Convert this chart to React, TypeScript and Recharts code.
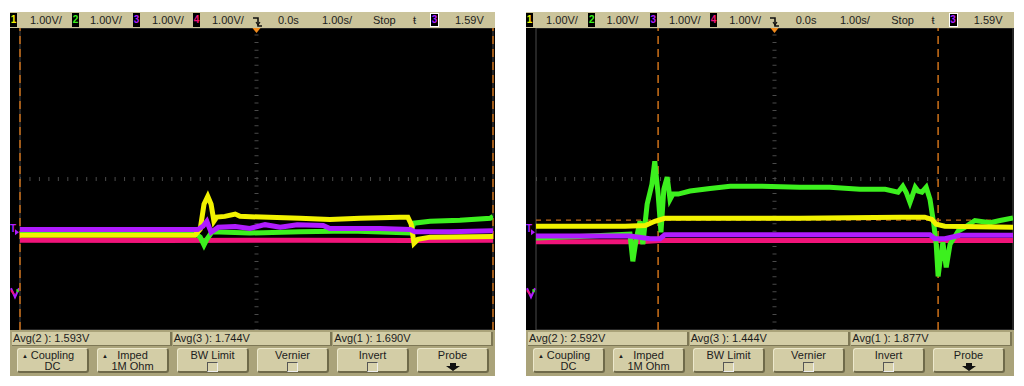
import React from 'react'
import { LineChart, Line, XAxis, YAxis, CartesianGrid, ReferenceLine } from 'recharts'

interface Pt {
  t: number
  v: number
}

// axes: seconds (1.00s/div, trigger at 0.0s) and volts (1.00V/div)
const timeTicks = [-5, -4, -3, -2, -1, 0, 1, 2, 3, 4, 5]
const voltTicks = [-1, 0, 1, 2, 3, 4, 5, 6, 7]
const triggerLevel = 1.59

const leftAvg = ['Avg(2 ): 1.593V', 'Avg(3 ): 1.744V', 'Avg(1 ): 1.690V']
const rightAvg = ['Avg(2 ): 2.592V', 'Avg(3 ): 1.444V', 'Avg(1 ): 1.877V']
const buttonTop = ['Coupling', 'Imped', 'BW Limit', 'Vernier', 'Invert', 'Probe']
const buttonBottom = ['DC', '1M Ohm', '', '', '', '']

// left capture
const leftYellow: Pt[] = [
  { t: -5, v: 1.51 }, { t: -1.3, v: 1.51 }, { t: -1.19, v: 1.67 }, { t: -1.11, v: 2.33 },
  { t: -1.03, v: 2.54 }, { t: -0.96, v: 2.33 }, { t: -0.9, v: 1.88 }, { t: -0.84, v: 1.99 },
  { t: -0.67, v: 2.01 }, { t: -0.45, v: 2.07 }, { t: -0.35, v: 2.01 }, { t: 0.92, v: 1.96 },
  { t: 1.55, v: 1.93 }, { t: 2.19, v: 1.96 }, { t: 3.03, v: 1.99 }, { t: 3.2, v: 1.99 },
  { t: 3.27, v: 1.8 }, { t: 3.33, v: 1.3 }, { t: 3.41, v: 1.4 }, { t: 3.67, v: 1.46 }, { t: 5, v: 1.48 },
]
const leftGreen: Pt[] = [
  { t: -5, v: 1.57 }, { t: -1.3, v: 1.57 }, { t: -1.19, v: 1.46 }, { t: -1.11, v: 1.25 },
  { t: -1.05, v: 1.4 }, { t: -0.94, v: 1.6 }, { t: -0.14, v: 1.57 }, { t: 0.92, v: 1.6 },
  { t: 1.98, v: 1.62 }, { t: 3.25, v: 1.57 }, { t: 3.33, v: 1.83 }, { t: 3.67, v: 1.88 },
  { t: 4.3, v: 1.91 }, { t: 4.94, v: 1.96 }, { t: 5, v: 2.01 },
]
const leftPurple: Pt[] = [
  { t: -5, v: 1.66 }, { t: -1.24, v: 1.66 }, { t: -1.13, v: 1.75 }, { t: -1.05, v: 1.88 },
  { t: -0.96, v: 1.59 }, { t: -0.81, v: 1.72 }, { t: -0.45, v: 1.74 }, { t: -0.14, v: 1.69 },
  { t: 0.18, v: 1.79 }, { t: 0.5, v: 1.72 }, { t: 0.86, v: 1.79 }, { t: 1.41, v: 1.77 },
  { t: 1.55, v: 1.69 }, { t: 2.61, v: 1.69 }, { t: 3.25, v: 1.66 }, { t: 3.35, v: 1.6 },
  { t: 4.09, v: 1.6 }, { t: 5, v: 1.63 },
]
const leftMagenta: Pt[] = [
  { t: -5, v: 1.38 }, { t: -2, v: 1.37 }, { t: 1, v: 1.38 }, { t: 3.3, v: 1.37 }, { t: 5, v: 1.38 },
]

// right capture
const rightYellow: Pt[] = [
  { t: -5, v: 1.75 }, { t: -3.13, v: 1.75 }, { t: -2.71, v: 1.77 }, { t: -2.51, v: 1.88 },
  { t: -2.3, v: 1.96 }, { t: -1.56, v: 1.96 }, { t: 0.53, v: 1.96 }, { t: 2.63, v: 1.99 },
  { t: 3.15, v: 1.99 }, { t: 3.3, v: 1.93 }, { t: 3.39, v: 1.8 }, { t: 3.57, v: 1.75 }, { t: 5, v: 1.72 },
]
const rightGreen: Pt[] = [
  { t: -5, v: 1.44 }, { t: -4.08, v: 1.48 }, { t: -3.03, v: 1.54 }, { t: -2.97, v: 0.82 },
  { t: -2.9, v: 1.4 }, { t: -2.82, v: 1.88 }, { t: -2.76, v: 1.27 }, { t: -2.67, v: 2.33 },
  { t: -2.57, v: 2.86 }, { t: -2.51, v: 3.47 }, { t: -2.44, v: 2.6 }, { t: -2.38, v: 1.59 },
  { t: -2.32, v: 2.73 }, { t: -2.25, v: 3.05 }, { t: -2.19, v: 2.46 }, { t: -2.13, v: 2.6 },
  { t: -2.02, v: 2.6 }, { t: -1.77, v: 2.68 }, { t: -1.35, v: 2.75 }, { t: -0.93, v: 2.81 },
  { t: -0.3, v: 2.81 }, { t: 0.53, v: 2.78 }, { t: 1.16, v: 2.78 }, { t: 1.79, v: 2.73 },
  { t: 2.32, v: 2.73 }, { t: 2.59, v: 2.65 }, { t: 2.69, v: 2.81 }, { t: 2.76, v: 2.65 },
  { t: 2.84, v: 2.38 }, { t: 2.88, v: 2.52 }, { t: 2.95, v: 2.78 }, { t: 3.01, v: 2.68 },
  { t: 3.09, v: 2.65 }, { t: 3.18, v: 2.78 }, { t: 3.26, v: 2.46 }, { t: 3.34, v: 1.8 },
  { t: 3.39, v: 1.27 }, { t: 3.43, v: 0.42 }, { t: 3.47, v: 0.82 }, { t: 3.53, v: 1.32 },
  { t: 3.6, v: 0.66 }, { t: 3.68, v: 1.27 }, { t: 3.85, v: 1.62 }, { t: 3.99, v: 1.72 },
  { t: 4.2, v: 1.9 }, { t: 4.52, v: 1.84 }, { t: 4.73, v: 1.9 }, { t: 5, v: 1.97 },
]
const rightPurple: Pt[] = [
  { t: -5, v: 1.49 }, { t: -3.03, v: 1.49 }, { t: -2.61, v: 1.42 }, { t: -2.4, v: 1.42 },
  { t: -2.3, v: 1.52 }, { t: 3.26, v: 1.52 }, { t: 3.36, v: 1.42 }, { t: 3.57, v: 1.42 },
  { t: 3.89, v: 1.51 }, { t: 5, v: 1.51 },
]
const rightMagenta: Pt[] = [
  { t: -5, v: 1.34 }, { t: -2.82, v: 1.34 }, { t: -2.4, v: 1.37 }, { t: 5, v: 1.37 },
]

const CH_COLORS = ['#f2f200', '#3cf01e', '#b01cff', '#f0147a']
const DRAW_ORDER = [3, 1, 0, 2]
const STATUS_BG = '#cbc49b'
const PANEL_BG = '#aaa37a'
const BTN_BG = '#d3cda6'
const CURSOR = '#c06a18'

interface ScopeProps {
  x: number
  width: number
  plotWidth: number
  traces: Pt[][]
  avg: string[]
  cursorsX: number[]
  cursorY?: number
}

function ChBox({ n, left, selected }: { n: number; left: number; selected?: boolean }) {
  return (
    <div
      style={{
        position: 'absolute',
        left,
        top: 1,
        width: selected ? 9 : 7,
        height: 14,
        background: '#000',
        border: selected ? '1px solid #fff' : 'none',
        boxSizing: 'border-box',
        color: CH_COLORS[n - 1],
        fontSize: 10,
        fontWeight: 'bold',
        lineHeight: selected ? '12px' : '14px',
        textAlign: 'center',
      }}
    >
      {n}
    </div>
  )
}

function StatusBar({ width }: { width: number }) {
  const k = width / 485
  const txt = (s: string, left: number) => (
    <span style={{ position: 'absolute', left: left * k, top: 1, fontSize: 11, lineHeight: '14px', color: '#1c1c1c' }}>
      {s}
    </span>
  )
  return (
    <div style={{ position: 'absolute', left: 0, top: 12, width, height: 16, background: STATUS_BG }}>
      <ChBox n={1} left={0} />
      {txt('1.00V/', 20)}
      <ChBox n={2} left={62 * k} />
      {txt('1.00V/', 80)}
      <ChBox n={3} left={123 * k} />
      {txt('1.00V/', 142)}
      <ChBox n={4} left={183 * k} />
      {txt('1.00V/', 202)}
      <svg style={{ position: 'absolute', left: 242 * k, top: 4 }} width={11} height={12}>
        <path d="M1 2 H6 V10 H10" stroke="#111" strokeWidth={1.6} fill="none" />
        <path d="M4 6 L6 9 L8 6" stroke="#111" strokeWidth={1.2} fill="none" />
      </svg>
      {txt('0.0s', 268)}
      {txt('1.00s/', 312)}
      {txt('Stop', 363)}
      {txt('ŧ', 403)}
      <ChBox n={3} left={420 * k} selected />
      {txt('1.59V', 445)}
    </div>
  )
}

function Panel({ width, avg }: { width: number; avg: string[] }) {
  const boxW = (width - 6) / 3
  return (
    <div style={{ position: 'absolute', left: 0, top: 330, width, height: 46, background: PANEL_BG }}>
      {avg.map((a, i) => (
        <div
          key={a}
          style={{
            position: 'absolute',
            left: 2 + i * (boxW + 1),
            top: 2,
            width: boxW - 3,
            height: 13,
            background: BTN_BG,
            borderRight: '2px solid #7d7755',
            borderBottom: '1px solid #7d7755',
            fontSize: 11,
            lineHeight: '13px',
            paddingLeft: 1,
            color: '#1c1c1c',
          }}
        >
          {a}
        </div>
      ))}
      {buttonTop.map((b, i) => (
        <div
          key={b}
          style={{
            position: 'absolute',
            left: 7 + i * 80,
            top: 18,
            width: 72,
            height: 25,
            boxSizing: 'border-box',
            background: BTN_BG,
            borderTop: '1px solid #ece8cc',
            borderLeft: '1px solid #ece8cc',
            borderRight: '2px solid #6f6a4a',
            borderBottom: '2px solid #6f6a4a',
            borderRadius: 3,
            textAlign: 'center',
            fontSize: 11,
            lineHeight: '11px',
            color: '#1c1c1c',
          }}
        >
          {i < 2 && <span style={{ position: 'absolute', left: 4, top: 2, fontSize: 6 }}>▲</span>}
          <div style={{ paddingTop: 1 }}>{b}</div>
          {buttonBottom[i] && <div>{buttonBottom[i]}</div>}
          {i >= 2 && i <= 4 && (
            <div
              style={{
                margin: '1px auto 0',
                width: 9,
                height: 8,
                border: '1px solid #555',
                borderRightColor: '#eee',
                borderBottomColor: '#eee',
                background: '#d8d2ac',
              }}
            />
          )}
          {i === 5 && (
            <svg width={16} height={8} style={{ display: 'block', margin: '2px auto 0' }}>
              <path d="M5 0 H11 V3 H15 L8 8 L1 3 H5 Z" fill="#111" />
            </svg>
          )}
        </div>
      ))}
    </div>
  )
}

function Scope({ x, width, plotWidth, traces, avg, cursorsX, cursorY }: ScopeProps) {
  const hStep = plotWidth / 50
  const vStep = 302 / 40
  return (
    <div style={{ position: 'absolute', left: x, top: 0, width, height: 386 }}>
      <StatusBar width={width} />
      <div style={{ position: 'absolute', left: 0, top: 28, width, height: 302, background: '#000' }}>
        <LineChart
          width={width}
          height={302}
          margin={{ top: 0, bottom: 0, left: 10, right: width - 10 - plotWidth }}
        >
          <CartesianGrid stroke="#4a4a4a" />
          <XAxis
            dataKey="t"
            type="number"
            domain={[-5, 5]}
            ticks={timeTicks}
            allowDataOverflow
            height={0}
            tick={false}
            axisLine={false}
            tickLine={false}
          />
          <YAxis
            type="number"
            domain={[-1, 7]}
            ticks={voltTicks}
            allowDataOverflow
            width={0}
            tick={false}
            axisLine={false}
            tickLine={false}
          />
          {/* minor ticks on the centre axes */}
          <ReferenceLine y={3} stroke="#4a4a4a" strokeWidth={4} strokeDasharray={`1 ${hStep - 1}`} />
          <ReferenceLine x={0} stroke="#4a4a4a" strokeWidth={4} strokeDasharray={`1 ${vStep - 1}`} />
          <ReferenceLine
            y={0}
            stroke="none"
            label={(p: any) => {
              const vb = p.viewBox
              return (
                <g>
                  <path d={`M${vb.x - 9} ${vb.y - 4} L${vb.x - 5} ${vb.y + 5} L${vb.x - 1} ${vb.y - 4}`} stroke="#b01cff" strokeWidth={2} fill="none" />
                  <path d={`M${vb.x - 9} ${vb.y - 2} L${vb.x - 6} ${vb.y + 2}`} stroke="#f0147a" strokeWidth={2} />
                  <path d={`M${vb.x - 3} ${vb.y - 3} L${vb.x - 2} ${vb.y}`} stroke="#3cf01e" strokeWidth={2} />
                </g>
              )
            }}
          />
          <ReferenceLine
            y={triggerLevel}
            stroke="none"
            label={(p: any) => {
              const vb = p.viewBox
              return (
                <g>
                  <text x={vb.x - 10} y={vb.y} fill="#b01cff" fontSize={10} fontWeight="bold">T</text>
                  <path d={`M${vb.x - 5} ${vb.y - 3} L${vb.x - 1} ${vb.y} L${vb.x - 5} ${vb.y + 3} Z`} fill="#b01cff" />
                </g>
              )
            }}
          />
          <ReferenceLine
            x={0}
            stroke="none"
            label={(p: any) => {
              const vb = p.viewBox
              return <path d={`M${vb.x - 4} ${vb.y} L${vb.x + 4} ${vb.y} L${vb.x} ${vb.y + 5} Z`} fill="#f08a1c" />
            }}
          />
          {cursorY !== undefined && (
            <ReferenceLine y={cursorY} stroke={CURSOR} strokeDasharray="5 5" strokeWidth={1.2} />
          )}
          {cursorsX.map((c) => (
            <ReferenceLine key={c} x={c} stroke={CURSOR} strokeDasharray="8 5" strokeWidth={1.6} />
          ))}
          {DRAW_ORDER.map((ch) => (
            <Line
              key={ch}
              data={traces[ch]}
              dataKey="v"
              type="linear"
              stroke={CH_COLORS[ch]}
              strokeWidth={5}
              dot={false}
              isAnimationActive={false}
            />
          ))}
        </LineChart>
      </div>
      <Panel width={width} avg={avg} />
    </div>
  )
}

export default function App() {
  return (
    <div
      style={{
        position: 'fixed',
        left: 0,
        top: 0,
        width: 1024,
        height: 386,
        background: '#fff',
        overflow: 'hidden',
        fontFamily: '"Liberation Sans", Arial, sans-serif',
      }}
    >
      <Scope
        x={10}
        width={485}
        plotWidth={473}
        traces={[leftYellow, leftGreen, leftPurple, leftMagenta]}
        avg={leftAvg}
        cursorsX={[-5, 5]}
      />
      <Scope
        x={526}
        width={488}
        plotWidth={477}
        traces={[rightYellow, rightGreen, rightPurple, rightMagenta]}
        avg={rightAvg}
        cursorsX={[-2.44, 3.43]}
        cursorY={1.91}
      />
    </div>
  )
}
